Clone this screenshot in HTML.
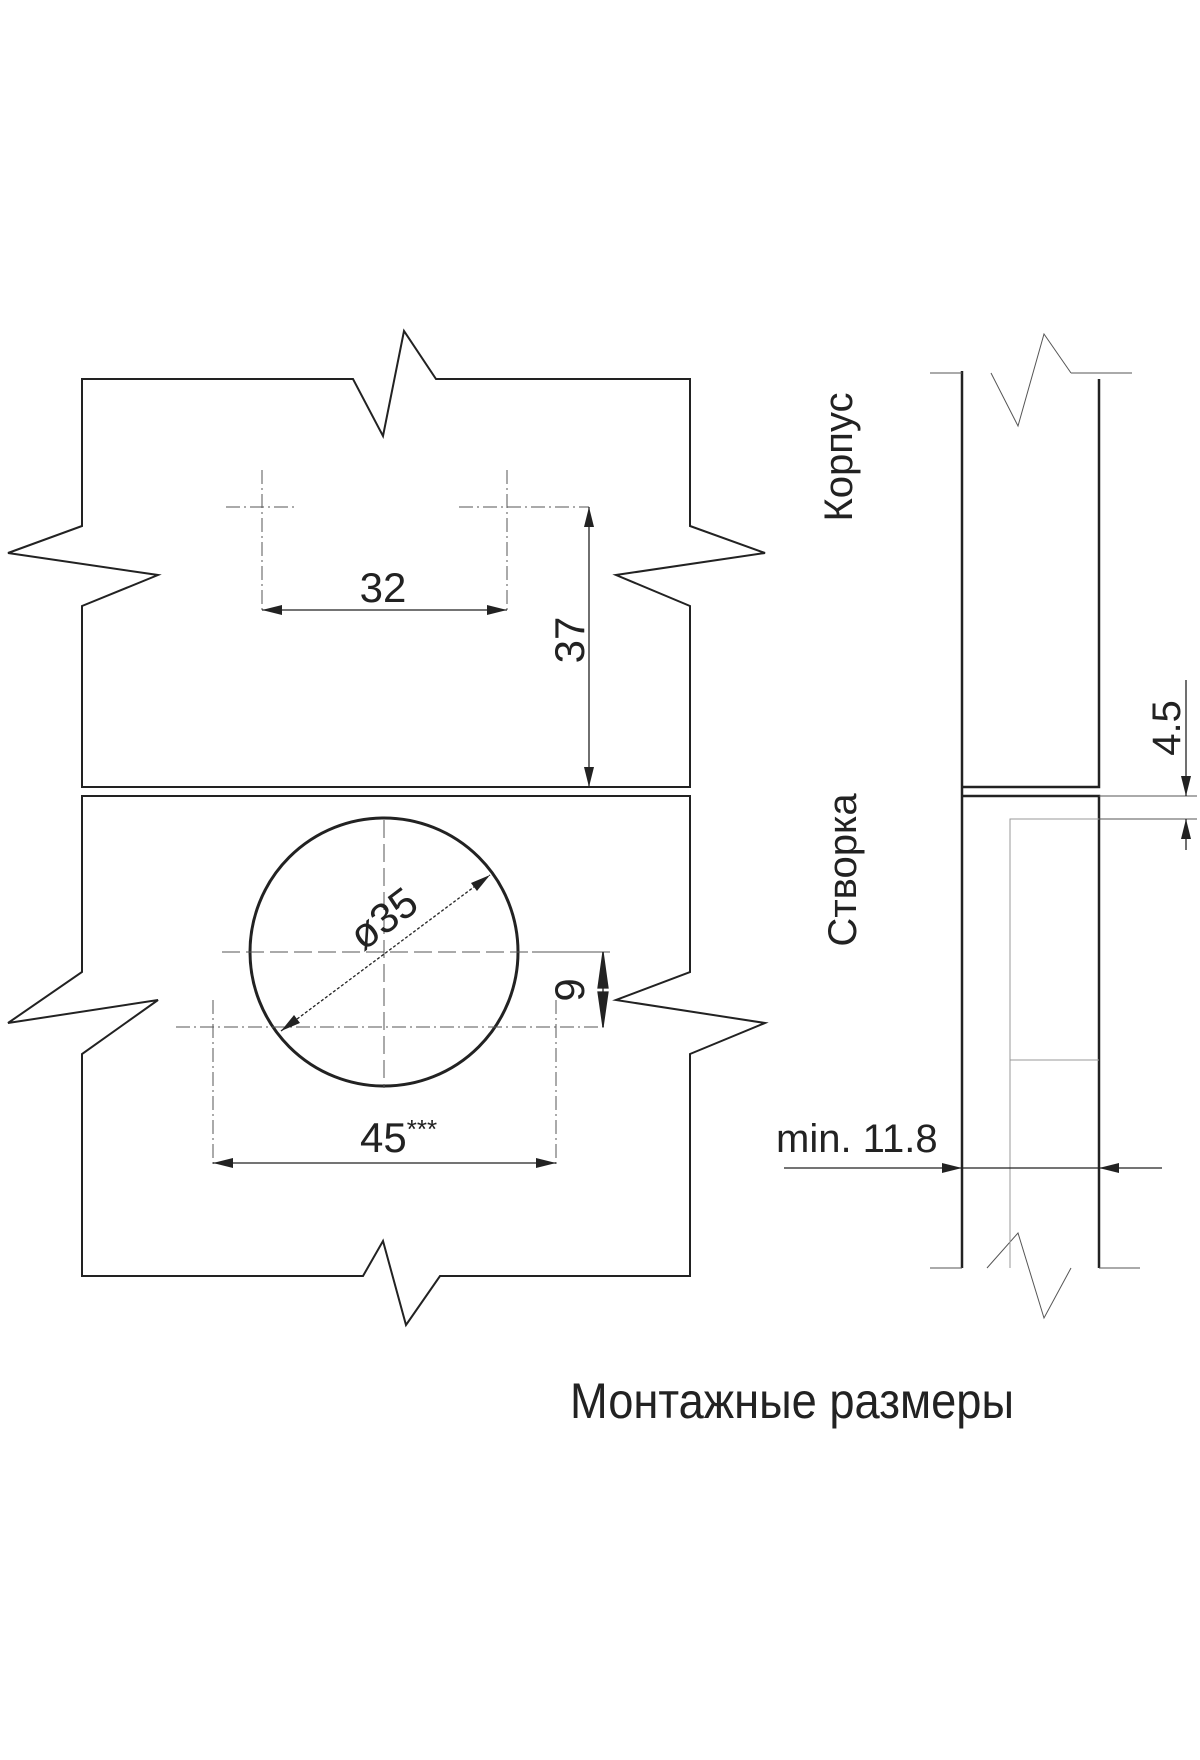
<!DOCTYPE html>
<html><head><meta charset="utf-8"><style>
html,body{margin:0;padding:0;background:#fff;}
svg{display:block;}
text{font-family:"Liberation Sans Narrow","Liberation Sans",sans-serif;fill:#222;}
</style></head><body>
<svg width="1200" height="1760" viewBox="0 0 1200 1760" xmlns="http://www.w3.org/2000/svg">
<defs>
<marker id="a" viewBox="0 0 12 6" refX="12" refY="3" markerWidth="36" markerHeight="10" markerUnits="userSpaceOnUse" orient="auto-start-reverse"><path d="M0,0 L12,3 L0,6 Z" fill="#222"/></marker>
</defs>
<g fill="none" stroke="#222" stroke-width="2">
<!-- top panel -->
<path d="M82,787 L82,606 L158,575 L8,553 L82,526 L82,379 L353,379 L383,436 L404,331 L436,379 L690,379 L690,526 L765,553 L616,575 L690,606 L690,787 Z"/>
<!-- bottom panel -->
<path d="M82,796 L690,796 L690,972 L616,1000 L765,1023 L690,1054 L690,1276 L440,1276 L406,1325 L383,1241 L363,1276 L82,1276 L82,1054 L158,1000 L8,1023 L82,972 Z"/>
<circle cx="384" cy="952" r="134" stroke-width="3"/>
<!-- right side view -->
<path d="M962,371 L962,1268 M1099,379 L1099,787 L962,787 M962,796 L1099,796 L1099,1268" stroke-width="2.5"/>
</g>
<g fill="none" stroke="#555" stroke-width="1">
<path d="M930,373 L962,373 M1071,373 L1132,373 M930,1268 L962,1268 M1099,1268 L1140,1268"/>
<path d="M991,373 L1018,426 L1044,334 L1071,373 M987,1268 L1018,1233 L1044,1318 L1071,1268"/>
<path d="M1010,1268 L1010,819 L1099,819 M1010,1060 L1099,1060" stroke="#999"/>
<path d="M1099,796 L1197,796 M1099,819 L1197,819"/>
<!-- top holes -->
<path d="M262,470 L262,610 M507,470 L507,610" stroke-dasharray="14,4,2,4"/>
<path d="M226,507 L298,507 M459,507 L589,507" stroke-dasharray="14,4,2,4"/>
<!-- centerlines circle -->
<path d="M384,820 L384,1088 M222,952 L532,952" stroke-dasharray="18,6"/>
<path d="M176,1027 L604,1027 M213,1000 L213,1165 M556,1000 L556,1165" stroke-dasharray="14,4,2,4"/>
<path d="M532,952 L610,952"/>
</g>
<g stroke="#222" stroke-width="1.3" fill="none">
<line x1="262" y1="610" x2="507" y2="610" marker-start="url(#a)" marker-end="url(#a)"/>
<line x1="589" y1="507" x2="589" y2="787" marker-start="url(#a)" marker-end="url(#a)"/>
<line x1="281" y1="1031" x2="490" y2="875" marker-start="url(#a)" marker-end="url(#a)" stroke-dasharray="3,2"/>
<line x1="213" y1="1163" x2="556" y2="1163" marker-start="url(#a)" marker-end="url(#a)"/>
<line x1="603" y1="952" x2="603" y2="1027"/>
<path d="M603,952 L598,988 L608,988 Z M603,1027 L598,992 L608,992 Z" fill="#222"/>
<line x1="1186" y1="680" x2="1186" y2="796" marker-end="url(#a)"/>
<line x1="1186" y1="850" x2="1186" y2="819" marker-end="url(#a)"/>
<line x1="784" y1="1168" x2="962" y2="1168" marker-end="url(#a)"/>
<line x1="962" y1="1168" x2="1099" y2="1168"/>
<line x1="1162" y1="1168" x2="1099" y2="1168" marker-end="url(#a)"/>
</g>
<text x="383" y="602" font-size="42" text-anchor="middle">32</text>
<text transform="translate(584,640) rotate(-90)" font-size="42" text-anchor="middle">37</text>
<text transform="translate(392,930) rotate(-37)" font-size="42" text-anchor="middle">ø35</text>
<text transform="translate(584,990) rotate(-90)" font-size="42" text-anchor="middle">9</text>
<text x="360" y="1152" font-size="42">45<tspan font-size="26" dy="-14">***</tspan></text>
<text transform="translate(1180,728) rotate(-90)" font-size="40" text-anchor="middle">4.5</text>
<text x="776" y="1152" font-size="40">min. 11.8</text>
<text transform="translate(852,457) rotate(-90)" font-size="40" text-anchor="middle">Корпус</text>
<text transform="translate(856,870) rotate(-90)" font-size="40" text-anchor="middle">Створка</text>
<text x="570" y="1418" font-size="50" textLength="444" lengthAdjust="spacingAndGlyphs">Монтажные размеры</text>
</svg>
</body></html>
